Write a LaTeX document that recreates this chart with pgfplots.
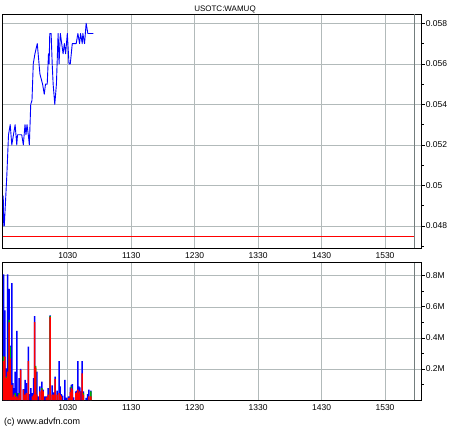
\documentclass[border=0pt]{standalone}
\usepackage{fontspec}
\setmainfont{Liberation Sans}
\usepackage{pgfplots}
\pgfplotsset{compat=1.18}
\definecolor{gridc}{RGB}{178,186,186}
\definecolor{pblue}{RGB}{0,0,255}
\definecolor{vred}{RGB}{255,0,0}
\definecolor{vgreen}{RGB}{0,175,0}
\definecolor{sessline}{RGB}{115,125,125}

\pgfplotstableread{
x y
-1 0.0495
-0.5 0.048
0 0.048
2.4 0.0505
4 0.0525
5.6 0.053
7.1 0.052
8.7 0.0525
10.25 0.053
11.8 0.052
12.5 0.0525
14 0.0525
16.5 0.0525
18 0.052
19.6 0.053
20.5 0.0525
21.5 0.053
22.7 0.0525
23.7 0.052
25 0.054
26.2 0.0542
27.4 0.056
29 0.0565
31.2 0.057
33.7 0.0555
36.2 0.055
37.8 0.0545
39 0.055
40.6 0.055
41.8 0.0565
42.4 0.056
43 0.0575
44.3 0.0575
45.3 0.056
46.2 0.055
47.75 0.054
49.3 0.055
50.9 0.0575
51.8 0.056
53 0.0575
54.3 0.057
55.6 0.0565
56.8 0.057
58 0.0565
59.6 0.0575
61.2 0.056
62.4 0.056
64.3 0.057
68 0.057
69.6 0.0575
71.2 0.057
72.1 0.0575
73.7 0.057
74.3 0.0575
75.9 0.057
77.4 0.058
79 0.0575
84.3 0.0575
}\pricetable

% volume tops (millions): blue = total
\pgfplotstableread{
x v
-0.7 0.809
0.6 0.577
1.8 0.204
3.1 0.809
4.6 0.715
5.6 0.35
7.1 0.753
8.1 0.109
9.3 0.077
10.25 0.183
11.8 0.445
12.8 0.045
14 0.140
15.5 0.2
18 0.07
19.6 0.13
20.9 0.109
22.7 0.343
23.7 0.038
25.2 0.077
26.5 0.045
27.8 0.140
28.7 0.540
30.9 0.183
32.4 0.023
33.7 0.087
35.6 0.119
36.8 0.066
38.4 0.023
39.9 0.023
41.5 0.077
43.4 0.545
45.2 0.094
46.3 0.049
47 0.049
48 0.151
49.9 0.060
51.8 0.251
52.7 0.087
54 0.038
55.25 0.028
57.4 0.130
59 0.015
60.9 0.023
62.5 0.081
63.4 0.098
64.3 0.102
65.6 0.017
67.75 0.055
68.7 0.060
69.6 0.251
70.6 0.087
71.5 0.081
72.4 0.055
73.7 0.251
74.9 0.055
77.4 0.013
78.7 0.038
79.9 0.066
81.8 0.060
}\bluetable

\pgfplotstableread{
x v
-0.7 0.28
1.8 0.150
4.6 0.515
5.6 0.343
10.25 0.045
14 0.045
29.6 0.22
35.6 0.077
43.4 0.540
63.4 0.087
74.9 0.045
81.8 0.055
}\greentable

\pgfplotstableread{
x v
-0.7 0.25
0.6 0.279
1.8 0.140
3.1 0.183
4.6 0.50
5.6 0.268
7.1 0.098
8.1 0.02
9.3 0.034
10.25 0.02
11.8 0.023
12.8 0.01
14 0.034
15.5 0.194
18 0.066
19.6 0.034
20.9 0.045
22.7 0.25
26.5 0.023
27.8 0.034
28.7 0.502
29.6 0.209
30.9 0.034
33.7 0.055
35.6 0.066
36.8 0.055
39.9 0.017
41.5 0.034
43.4 0.534
45.2 0.034
46.3 0.034
47 0.034
48 0.136
49.9 0.034
51.8 0.045
52.7 0.034
54 0.023
60.9 0.013
62.5 0.051
63.4 0.077
64.3 0.066
67.75 0.045
68.7 0.049
69.6 0.066
70.6 0.045
71.5 0.055
73.7 0.172
74.9 0.034
79.9 0.023
81.8 0.023
}\redtable

\begin{document}
\begin{tikzpicture}
\useasboundingbox (0pt,0pt) rectangle (460pt,-430pt);
\pgfplotsset{
  common/.style={
    scale only axis, width=419pt,
    xmin=-1.5, xmax=394.7,
    xtick={60,120,180,240,300,360},
    xticklabels={1030,1130,1230,1330,1430,1530},
    xtick style={draw=none},
    grid=major, major grid style={gridc, line width=0.5pt},
    axis line style={line width=0.8pt},
    ytick pos=right, yticklabel pos=right,
    scaled y ticks=false, scaled x ticks=false,
    tick align=outside, major tick length=3pt, minor tick length=2pt,
    ytick style={black, line width=0.6pt},
    minor tick style={black, line width=0.5pt},
    ticklabel style={font=\fontsize{8.5}{10}\selectfont},
    yticklabel style={inner sep=1pt},
    xticklabel style={inner sep=1.5pt},
    /pgf/number format/assume math mode=true,
  }
}
\begin{axis}[common, at={(2.7pt,-14pt)}, anchor=north west, height=234.3pt,
  ymin=0.0469, ymax=0.05846,
  ytick={0.048,0.05,0.052,0.054,0.056,0.058},
  yticklabels={0.048,0.05,0.052,0.054,0.056,0.058},
  minor ytick={0.047,0.049,0.051,0.053,0.055,0.057}]
\addplot[vred, line width=0.8pt] coordinates {(-1.5,0.04751) (387.7,0.04751)};
\addplot[sessline, line width=0.8pt] coordinates {(387.7,0.0469) (387.7,0.05846)};
\addplot[pblue, line width=0.9pt, line join=round] table[x=x,y=y] {\pricetable};
\end{axis}

\begin{axis}[common, at={(2.7pt,-262.5pt)}, anchor=north west, height=137.5pt,
  ymin=0, ymax=0.885,
  ytick={0.2,0.4,0.6,0.8},
  yticklabels={0.2M,0.4M,0.6M,0.8M},
  minor ytick={0.1,0.3,0.5,0.7}]
\addplot[sessline, line width=0.8pt] coordinates {(387.7,0) (387.7,0.885)};
\addplot[ybar, bar width=1.4, bar shift=0pt, fill=pblue, draw=none] table[x=x,y=v] {\bluetable};
\addplot[ybar, bar width=1.4, bar shift=0pt, fill=vgreen, draw=none] table[x=x,y=v] {\greentable};
\addplot[ybar, bar width=1.4, bar shift=0pt, fill=vred, draw=none] table[x=x,y=v] {\redtable};
\end{axis}

\node[anchor=base, inner sep=0pt, font=\fontsize{8}{9}\selectfont] at (225pt,-12pt) {USOTC:WAMUQ};
\node[anchor=west, inner sep=0pt, font=\fontsize{9}{10}\selectfont] at (4pt,-422pt) {(c) www.advfn.com};
\end{tikzpicture}
\end{document}
